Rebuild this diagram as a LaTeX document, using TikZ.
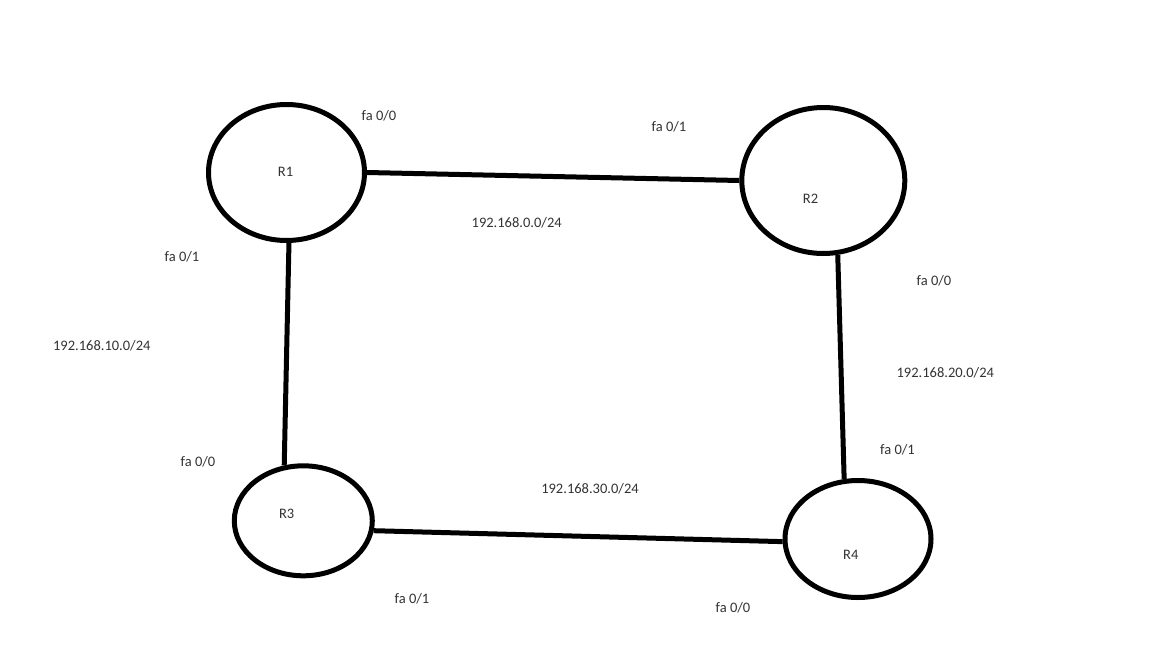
\documentclass[tikz,border=0pt]{standalone}
\usepackage{fontspec}
\setmainfont{Carlito}
\usetikzlibrary{shapes.geometric}

\begin{document}
\begin{tikzpicture}[x=1pt, y=-1pt, every node/.style={font=\fontsize{14.5}{16}\selectfont, text=LabelGray}]

\colorlet{LabelGray}{black!80}
\tikzset{router/.style={draw, ellipse, line width=5pt, inner sep=0pt},
         link/.style={line width=5pt}}

\useasboundingbox[fill=white] (0,0) rectangle (1152,648);

% Routers
\node[router, minimum width=156pt, minimum height=136pt] (R1) at (286.5,172.5){};
\node[router, minimum width=163pt, minimum height=146pt] (R2) at (823.3,180.5){};
\node[router, minimum width=138pt, minimum height=110pt] (R3) at (303.3,520.8){};
\node[router, minimum width=146pt, minimum height=117pt] (R4) at (858,539){};

\node[] (R1name) at (285.5,172){R1};
\node[] (R2name) at (810.5,199){R2};
\node[] (R3name) at (286.7,514){R3};
\node[] (R4name) at (850.8,555){R4};

% Links
\draw[link] (R1.east) -- (R2.west);
\draw[link] (R1.272) -- (R3.109);
\draw[link] (R2.281) -- (R4.103);
\draw[link] (R3.352) -- (R4.182);

% Labels
\node[] (net0)  at (516.7,223){192.168.0.0/24};
\node[] (net10) at (101.8,346){192.168.10.0/24};
\node[] (net20) at (945.3,373){192.168.20.0/24};
\node[] (net30) at (590,489){192.168.30.0/24};

\node[] (R1fa0) at (379,116){fa 0/0};
\node[] (R1fa1) at (182,257){fa 0/1};
\node[] (R2fa1) at (669,127){fa 0/1};
\node[] (R2fa0) at (934,281){fa 0/0};
\node[] (R3fa0) at (198,462){fa 0/0};
\node[] (R3fa1) at (412,599){fa 0/1};
\node[] (R4fa1) at (897.5,450){fa 0/1};
\node[] (R4fa0) at (733,608){fa 0/0};
\end{tikzpicture}
\end{document}
